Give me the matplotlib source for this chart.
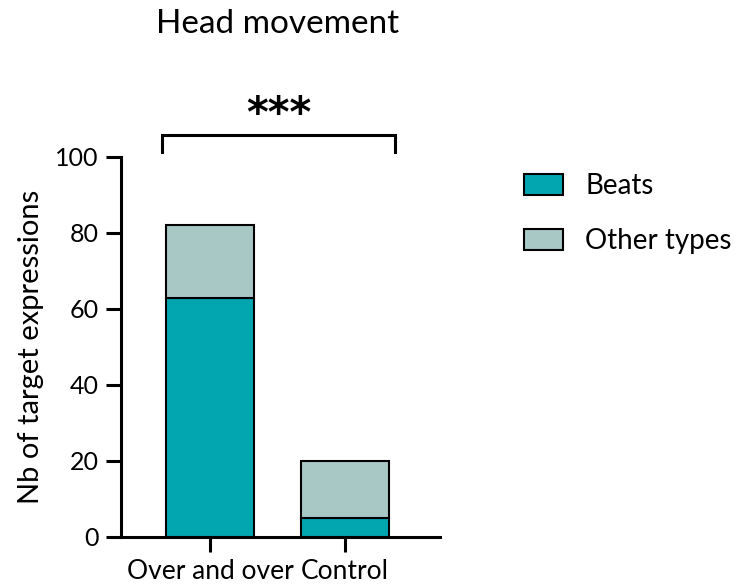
import matplotlib
matplotlib.use("Agg")
import matplotlib.pyplot as plt
from matplotlib.patches import Patch

categories = ["Over and over", "Control"]
beats = [63, 5]
other_types = [19, 15]
series_names = ["Beats", "Other types"]
yticks = [0, 20, 40, 60, 80, 100]
title = "Head movement"
ylabel = "Nb of target expressions"
sig_label = "***"

c_beats = "#02A6B0"
c_other = "#A8C8C5"

plt.rcParams['font.family'] = ['Lato', 'DejaVu Sans']

fig = plt.figure(figsize=(7.43, 5.88), dpi=100)
ax = fig.add_axes([121/743, 51/588, (440-121)/743, (537-157)/588])

x = [0, 1]
w = 0.652
ax.bar(x, beats, width=w, color=c_beats, edgecolor="black", linewidth=1.5, zorder=3)
ax.bar(x, other_types, width=w, bottom=beats, color=c_other, edgecolor="black", linewidth=1.5, zorder=3)

ax.set_xlim(-0.659, 1.704)
ax.set_ylim(0, 100)
ax.set_yticks(yticks)
ax.set_xticks(x)
ax.set_xticklabels(categories, fontsize=19)
ax.tick_params(axis='y', labelsize=18, length=11, width=2.2, pad=5)
ax.tick_params(axis='x', length=11, width=2.2, pad=5)
for s in ["top", "right"]:
    ax.spines[s].set_visible(False)
for s in ["left", "bottom"]:
    ax.spines[s].set_linewidth(2.2)
ax.set_ylabel(ylabel, fontsize=21, labelpad=8)

# significance bracket
bx0, bx1 = -0.356, 1.37
ax.plot([bx0, bx0, bx1, bx1], [101.3, 105.8, 105.8, 101.3], color="black", lw=2.2, clip_on=False, solid_joinstyle='miter')
ax.text((bx0 + bx1) / 2, 105.6, sig_label, ha="center", va="bottom", fontsize=30, fontweight="bold",
        family=["DejaVu Sans"], clip_on=False)

fig.text(278/743, 1 - 24/588, title, ha="center", va="center", fontsize=24)

handles = [Patch(facecolor=c_beats, edgecolor="black", linewidth=1.5),
           Patch(facecolor=c_other, edgecolor="black", linewidth=1.5)]
fig.legend(handles, series_names, loc="upper left", bbox_to_anchor=(502/743, 1 - 151/588),
           frameon=False, fontsize=20, handlelength=1.4, handleheight=0.8, labelspacing=1.05,
           handletextpad=0.8, borderpad=0.3)

fig.savefig("out.png", dpi=100)
